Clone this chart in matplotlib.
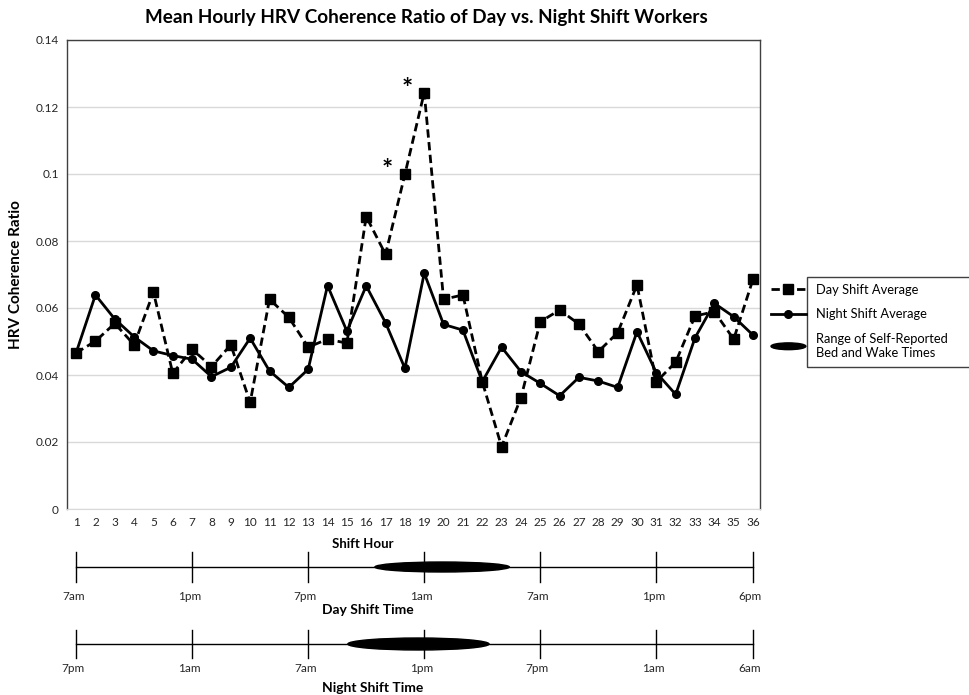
import numpy as np
import matplotlib
matplotlib.use("Agg")
import matplotlib.pyplot as plt
import matplotlib.patches as mpatches
from matplotlib.legend_handler import HandlerPatch

plt.rcParams['font.family'] = ['Lato', 'DejaVu Sans']

# Data
hours = list(range(1, 37))
day_shift = [0.0466, 0.0501, 0.0554, 0.0490, 0.0647, 0.0405, 0.0477, 0.0425, 0.0490,
             0.0318, 0.0626, 0.0572, 0.0483, 0.0507, 0.0495, 0.0873, 0.0760, 0.0999,
             0.1243, 0.0626, 0.0639, 0.0380, 0.0186, 0.0332, 0.0559, 0.0594, 0.0552,
             0.0470, 0.0526, 0.0669, 0.0380, 0.0438, 0.0576, 0.0589, 0.0507, 0.0686]
night_shift = [0.0466, 0.0639, 0.0567, 0.0514, 0.0472, 0.0458, 0.0447, 0.0395, 0.0423,
               0.0510, 0.0412, 0.0363, 0.0417, 0.0667, 0.0531, 0.0666, 0.0556, 0.0420,
               0.0704, 0.0551, 0.0534, 0.0380, 0.0483, 0.0410, 0.0375, 0.0338, 0.0393,
               0.0382, 0.0363, 0.0529, 0.0407, 0.0342, 0.0511, 0.0614, 0.0574, 0.0519]
significant_hours = [18, 19]

# Clock-time timelines (positions in shift hours)
time_hours = [1, 7, 13, 19, 25, 31, 36]
day_time_labels = ["7am", "1pm", "7pm", "1am", "7am", "1pm", "6pm"]
night_time_labels = ["7pm", "1am", "7am", "1pm", "7pm", "1am", "6am"]
day_sleep_range = (16.45, 23.4)
night_sleep_range = (15.05, 22.35)

W, H = 970, 695
fig = plt.figure(figsize=(W / 100, H / 100), dpi=100)

L, R, B, T = 67, 760, 509, 40
ax = fig.add_axes([L / W, 1 - B / H, (R - L) / W, (B - T) / H])

ax.plot(hours, day_shift, color='black', lw=2.0, ls=(0, (3, 1.6)), marker='s', ms=6.5,
        label='Day Shift Average', zorder=3)
ax.plot(hours, night_shift, color='black', lw=2.0, ls='-', marker='o', ms=5.5,
        label='Night Shift Average', zorder=4)

for h in significant_hours:
    ax.text(h - 0.9, day_shift[h - 1] - 0.0012, '*', fontsize=19, fontweight='bold',
            ha='center', va='baseline')

ax.set_xlim(0.53, 36.36)
ax.set_ylim(0, 0.14)
ax.set_xticks(hours)
ax.set_xticklabels([str(h) for h in hours], fontsize=8.5, color='#262626')
ax.set_yticks(np.arange(0, 0.141, 0.02))
ax.set_yticklabels(['0', '0.02', '0.04', '0.06', '0.08', '0.1', '0.12', '0.14'],
                   fontsize=8.5, color='#262626')
ax.tick_params(length=0, pad=6)
ax.yaxis.grid(True, color='#d9d9d9', lw=1)
ax.set_axisbelow(True)
for s in ['left', 'top', 'right']:
    ax.spines[s].set_color('#404040')
    ax.spines[s].set_linewidth(1.0)
ax.spines['bottom'].set_color('#d9d9d9')

ax.set_ylabel('HRV Coherence Ratio', fontsize=11, fontweight='bold', labelpad=9)
fig.text(426 / W, 1 - 18 / H, 'Mean Hourly HRV Coherence Ratio of Day vs. Night Shift Workers',
         ha='center', va='center', fontsize=13.6, fontweight='bold')
fig.text(363 / W, 1 - 544 / H, 'Shift Hour', ha='center', va='center', fontsize=9.5,
         fontweight='bold')

# Timelines below the chart
axt = fig.add_axes([L / W, 0, (R - L) / W, 1 - 530 / H])
axt.set_xlim(ax.get_xlim())
axt.set_ylim(H, 530)
axt.axis('off')

def timeline(y, labels, rng, label_y, ell_h, tick_half):
    axt.plot([time_hours[0], time_hours[-1]], [y, y], color='black', lw=1.0)
    for th, lab in zip(time_hours, labels):
        axt.plot([th, th], [y - tick_half, y + tick_half], color='black', lw=1.0)
        axt.text(th - 0.15, label_y, lab, ha='center', va='center', fontsize=8.5,
                 color='#262626')
    axt.add_patch(mpatches.Ellipse(((rng[0] + rng[1]) / 2, y), rng[1] - rng[0], ell_h,
                                   color='black', zorder=3))

timeline(567, day_time_labels, day_sleep_range, 596, 10, 15)
timeline(644, night_time_labels, night_sleep_range, 668, 12, 14)
fig.text(368 / W, 1 - 610 / H, 'Day Shift Time', ha='center', va='center', fontsize=10,
         fontweight='bold')
fig.text(373 / W, 1 - 688 / H, 'Night Shift Time', ha='center', va='center', fontsize=10,
         fontweight='bold')

# Legend: handles sit outside the box as in the original
ell_handle = mpatches.Ellipse((0, 0), 1, 1, color='black',
                              label='Range of Self-Reported\nBed and Wake Times')

def make_ellipse(legend, orig_handle, xdescent, ydescent, width, height, fontsize):
    return mpatches.Ellipse((width / 2 - xdescent, height / 2 - ydescent), width, height * 0.75)

handles, labels = ax.get_legend_handles_labels()
handles.append(ell_handle)
labels.append(ell_handle.get_label())
leg = fig.legend(handles, labels, loc='upper left', bbox_to_anchor=(771 / W, 1 - 284 / H),
                 frameon=False, fontsize=9.3, handlelength=2.7, handletextpad=0.8,
                 labelspacing=0.95, borderpad=0, borderaxespad=0,
                 handler_map={mpatches.Ellipse: HandlerPatch(patch_func=make_ellipse)})
for t in leg.get_texts():
    t.set_linespacing(1.25)
fig.patches.append(mpatches.Rectangle((807 / W, 1 - 367 / H), 170 / W, 90 / H,
                                      transform=fig.transFigure, fill=False,
                                      edgecolor='#404040', lw=1.0))

fig.savefig('out.png', dpi=100)
